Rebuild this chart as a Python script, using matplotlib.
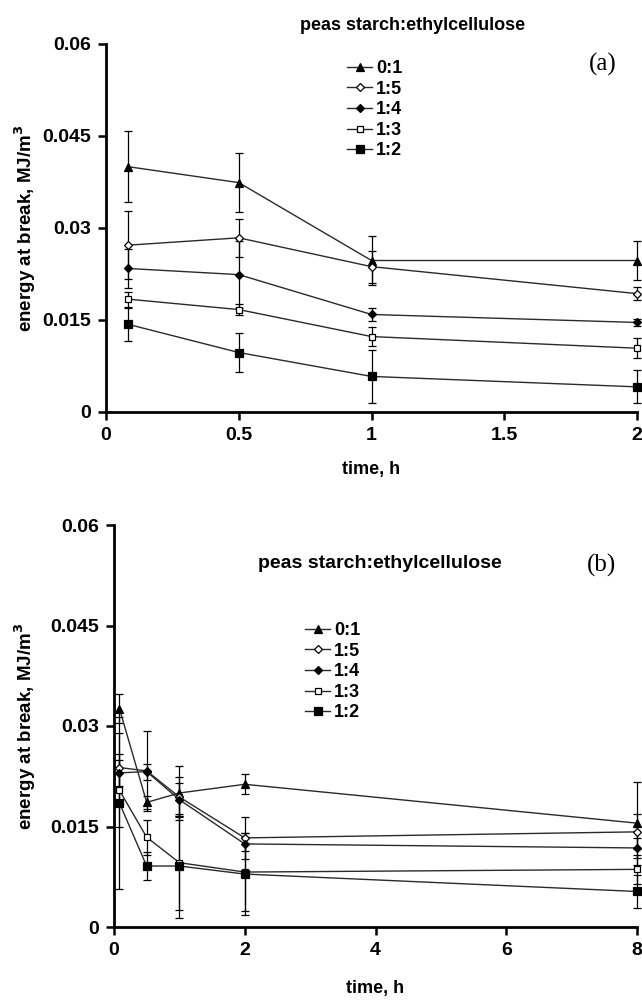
import numpy as np
import matplotlib
matplotlib.use("Agg")
import matplotlib.pyplot as plt

plt.rcParams['font.family'] = ['Liberation Sans', 'DejaVu Sans']
plt.rcParams['font.weight'] = 'bold'

labels = ['0:1', '1:5', '1:4', '1:3', '1:2']
markers = ['^', 'D', 'D', 's', 's']
faces = ['black', 'white', 'black', 'white', 'black']
msizes = [5.5, 4, 4, 5, 5.5]

# panel (a)
t_a = [0.083, 0.5, 1, 2]
val_a = [
    [0.0400, 0.0374, 0.0247, 0.0247],
    [0.0272, 0.0284, 0.0237, 0.0193],
    [0.0234, 0.0224, 0.0159, 0.0146],
    [0.0184, 0.0167, 0.0123, 0.0104],
    [0.0143, 0.0097, 0.0058, 0.0041],
]
err_a = [
    [0.0058, 0.0048, 0.0040, 0.0031],
    [0.0055, 0.0031, 0.0026, 0.0010],
    [0.0032, 0.0055, 0.0010, 0.0006],
    [0.0012, 0.0009, 0.0016, 0.0016],
    [0.0027, 0.0031, 0.0043, 0.0027],
]

# panel (b)
t_b = [0.083, 0.5, 1, 2, 8]
val_b = [
    [0.0326, 0.0186, 0.0200, 0.0213, 0.0155],
    [0.0238, 0.0233, 0.0194, 0.0133, 0.0142],
    [0.0230, 0.0232, 0.0190, 0.0124, 0.0118],
    [0.0204, 0.0134, 0.0096, 0.0082, 0.0086],
    [0.0185, 0.0091, 0.0091, 0.0079, 0.0053],
]
err_b = [
    [0.0022, 0.0010, 0.0041, 0.0015, 0.0062],
    [0.0052, 0.0060, 0.0030, 0.0031, 0.0026],
    [0.0020, 0.0012, 0.0025, 0.0010, 0.0015],
    [0.0054, 0.0026, 0.0070, 0.0058, 0.0022],
    [0.0129, 0.0021, 0.0077, 0.0061, 0.0025],
]

W, H = 642, 1002
fig = plt.figure(figsize=(W / 100, H / 100), dpi=100)


def px(x0, y0, x1, y1):
    return [x0 / W, 1 - y1 / H, (x1 - x0) / W, (y1 - y0) / H]


def panel(box, t, vals, errs, xticks, xlabels, tag, title_xy, tag_xy, leg_xy,
          title_size, xpad):
    ax = fig.add_axes(px(*box))
    for i in range(len(labels)):
        ax.errorbar(t, vals[i], yerr=errs[i], fmt='none', ecolor='black',
                    elinewidth=0.9, capsize=3, capthick=0.9, clip_on=False)
        ax.plot(t, vals[i], color='#2a2a2a', lw=1.0, marker=markers[i],
                ms=msizes[i], mfc=faces[i], mec='black', mew=0.9,
                label=labels[i], clip_on=False, zorder=3)
    ax.set_xlim(xticks[0], xticks[-1])
    ax.set_ylim(0, 0.06)
    ax.set_yticks([0, 0.015, 0.03, 0.045, 0.06])
    ax.set_yticklabels(['0', '0.015', '0.03', '0.045', '0.06'])
    ax.set_xticks(xticks)
    ax.set_xticklabels(xlabels)
    for s in ['top', 'right']:
        ax.spines[s].set_visible(False)
    for s in ['left', 'bottom']:
        ax.spines[s].set_linewidth(2)
    ax.tick_params(direction='out', length=6, width=1.8, labelsize=14, pad=5)
    ax.set_xlabel('time, h', fontsize=13, fontweight='bold', labelpad=xpad)
    ax.set_ylabel('energy at break, MJ/m$^\\mathbf{3}$', fontsize=13.5,
                  fontweight='bold')
    # right edge of the rotated y label at x = 38 px
    ax.yaxis.set_label_coords((38 - box[0]) / (box[2] - box[0]), 0.5)
    fig.text(title_xy[0] / W, 1 - title_xy[1] / H, 'peas starch:ethylcellulose',
             ha='center', va='center', fontsize=title_size, fontweight='bold')
    fig.text(tag_xy[0] / W, 1 - tag_xy[1] / H, tag, ha='center', va='center',
             fontsize=18, family='Liberation Serif', fontweight='normal')
    ax.legend(loc='upper left', bbox_to_anchor=(leg_xy[0] / W, 1 - leg_xy[1] / H),
              bbox_transform=fig.transFigure, frameon=False, fontsize=13,
              handlelength=1.4, handletextpad=0.2, labelspacing=0.2,
              borderpad=0, borderaxespad=0)
    return ax


panel((106, 44, 637, 412), t_a, val_a, err_a, [0, 0.5, 1, 1.5, 2],
      ['0', '0.5', '1', '1.5', '2'], '(a)', (413, 25), (603, 64), (347, 60), 13, 12)
panel((114, 525, 637, 927), t_b, val_b, err_b, [0, 2, 4, 6, 8],
      ['0', '2', '4', '6', '8'], '(b)', (380, 563), (602, 565), (305, 622), 14, 15)

fig.savefig('out.png', dpi=100)
